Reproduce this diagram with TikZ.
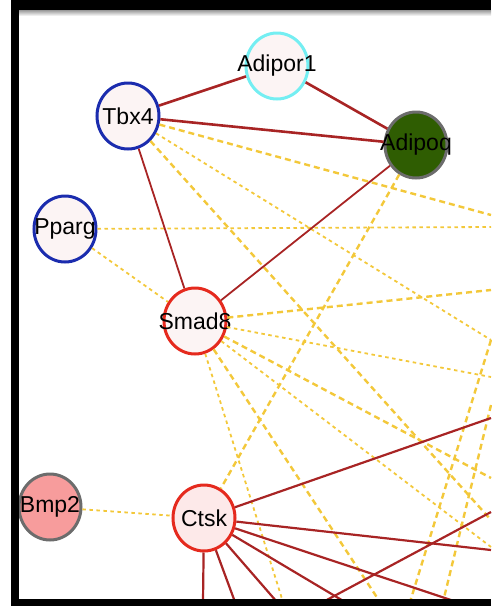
\documentclass[tikz,border=0pt]{standalone}
\usepackage{fontspec}
\setmainfont{Liberation Sans}
\usepackage{xcolor}
\usepackage{tikz}
\usetikzlibrary{shapes.geometric}
\definecolor{linkred}{HTML}{A82424}
\definecolor{linkgold}{HTML}{F3C83A}
\definecolor{pale}{HTML}{FCF4F4}
\definecolor{palerose}{HTML}{FDE9E9}
\definecolor{ringblue}{HTML}{1B2CAE}
\definecolor{ringcyan}{HTML}{74EEF2}
\definecolor{ringred}{HTML}{E52A1E}
\definecolor{ringgray}{HTML}{6C6C6C}
\definecolor{leaf}{HTML}{2F5D02}
\definecolor{salmon}{HTML}{F79C9C}
\tikzset{
  gene/.style={ellipse, draw, line width=3pt, minimum width=62pt, minimum height=66pt, inner sep=0pt, fill=pale, font=\fontsize{23}{23}\selectfont},
  tf/.style={gene, draw=ringblue},
  rcp/.style={gene, draw=ringcyan},
  hit/.style={gene, draw=ringred},
  ext/.style={gene, draw=ringgray},
  coexp/.style={draw=linkred, line width=2.2pt},
  pred/.style={draw=linkgold, line width=2.4pt, dash pattern=on 6pt off 4pt},
  weak/.style={draw=linkgold, line width=1.8pt, dash pattern=on 3.5pt off 3.5pt},
}
\newcommand{\gname}[1]{\makebox[0pt]{#1}}

\begin{document}
\begin{tikzpicture}[x=1pt, y=-1pt]
\useasboundingbox (0,0) rectangle (491,606);
% genes
\node[rcp] (adr) at (277,66) {\gname{Adipor1}};
\node[tf] (tbx) at (128,116) {\gname{Tbx4}};
\node[ext, fill=leaf] (adq) at (416,145) {\gname{Adipoq}};
\node[tf] (ppg) at (65,229) {\gname{Pparg}};
\node[hit] (smd) at (195,321) {\gname{Smad8}};
\node[ext, fill=salmon] (bmp) at (50,507) {\gname{Bmp2}};
\node[hit, fill=palerose] (ctk) at (204,518) {\gname{Ctsk}};
% partners cut off by the frame
\coordinate (eA) at (491,215); \coordinate (eB) at (491,227);
\coordinate (eC) at (491,290); \coordinate (eD) at (491,340);
\coordinate (eE) at (491,377); \coordinate (eF) at (491,405);
\coordinate (eG) at (491,418); \coordinate (eH) at (491,478);
\coordinate (eI) at (491,520); \coordinate (eJ) at (491,547);
\coordinate (eK) at (491,550); \coordinate (eL) at (491,512);
\coordinate (s1) at (203,602); \coordinate (s2) at (235,602);
\coordinate (s3) at (277,602); \coordinate (s4) at (345,602);
\coordinate (s5) at (457,602); \coordinate (s6) at (323,602);
\coordinate (s7) at (380,602); \coordinate (s8) at (283,602);
\coordinate (s9) at (410,602); \coordinate (s10) at (443,602);
% predicted links
\foreach \a/\b in {tbx/eA, tbx/eI, smd/eC, smd/eH, smd/s7, adq/ctk, eD/s9, eF/s10}
  \draw[pred] (\a) -- (\b);
\foreach \a/\b in {ppg/eB, ppg/smd, bmp/ctk, tbx/eD, smd/eE, smd/eJ, smd/s8}
  \draw[weak] (\a) -- (\b);
% co-expression
\draw[coexp, line width=2.6pt] (tbx) -- (adr);
\draw[coexp, line width=2.6pt] (adr) -- (adq);
\draw[coexp, line width=2.6pt] (tbx) -- (adq);
\draw[coexp, line width=1.8pt] (tbx) -- (smd);
\draw[coexp, line width=1.8pt] (smd) -- (adq);
\foreach \b in {eG,eK,s1,s2,s3,s4,s5}
  \draw[coexp] (ctk) -- (\b);
\draw[coexp] (s6) -- (eL);
% frame
\fill[black] (11,0) rectangle (491,10);
\shade[top color=black!40, bottom color=white] (19,10) rectangle (491,16);
\fill[black] (11,0) rectangle (19,606);
\fill[black] (11,599) rectangle (491,606);
\end{tikzpicture}
\end{document}
